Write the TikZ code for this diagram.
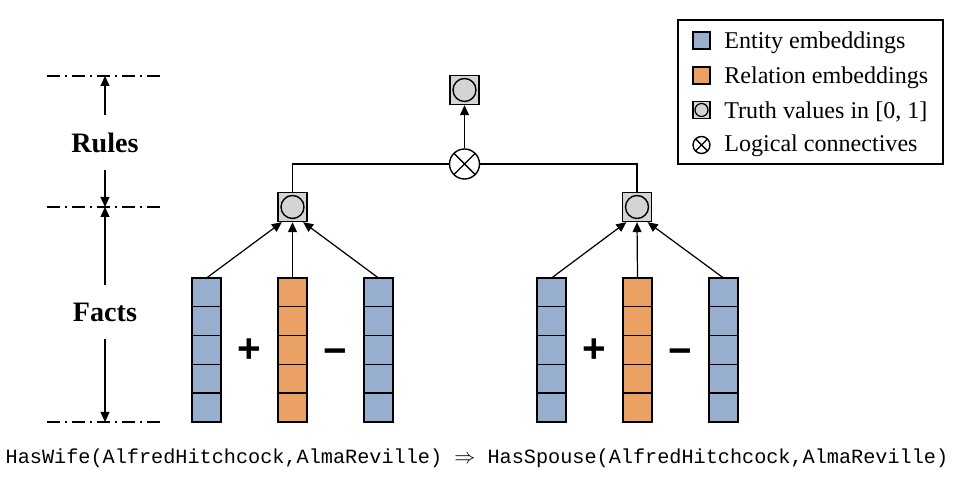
\documentclass[tikz,border=0pt]{standalone}
\usepackage{fontspec}
\setmainfont{Liberation Serif}
\setmonofont{Liberation Mono}
\newfontfamily\signfont{Liberation Sans}
\usepackage{amsmath}
\usetikzlibrary{arrows.meta}

\definecolor{entblue}{RGB}{152,174,206}
\definecolor{relorange}{RGB}{234,161,99}
\definecolor{truthgray}{RGB}{212,212,212}

\tikzset{
    emb/.style={draw, line width=0.8pt, minimum width=0.58cm, minimum height=2.88cm, inner sep=0pt, outer sep=0pt},
    truth/.style={draw, line width=0.8pt, fill=truthgray, minimum size=0.58cm, inner sep=0pt,
        path picture={\draw[line width=0.8pt, fill=truthgray] (path picture bounding box.center) circle (0.23cm);}},
    conn/.style={draw, circle, line width=0.8pt, fill=white, minimum size=0.6cm, inner sep=0pt,
        path picture={\draw[line width=0.8pt] (path picture bounding box.north west) -- (path picture bounding box.south east)
            (path picture bounding box.north east) -- (path picture bounding box.south west);}},
    legsq/.style={draw, line width=0.8pt, minimum size=0.34cm, inner sep=0pt},
    legtruth/.style={legsq, fill=truthgray,
        path picture={\draw[line width=0.7pt, fill=truthgray] (path picture bounding box.center) circle (0.13cm);}},
    legconn/.style={conn, minimum size=0.34cm},
    legtxt/.style={anchor=base west, inner sep=0pt, font=\fontsize{13.7}{15}\selectfont},
    level/.style={font=\bfseries\fontsize{16}{18}\selectfont, inner sep=0pt},
    sign/.style={font=\signfont\bfseries\fontsize{23}{25}\selectfont, inner sep=0pt},
    arr/.style={line width=0.7pt, -{Triangle[length=0.2cm, width=0.18cm]}},
    dashdot/.style={line width=0.7pt, dash pattern=on 0.26cm off 0.1cm on 0.04cm off 0.1cm},
}

\begin{document}
\begin{tikzpicture}[x=0.02cm, y=0.02cm]
    \useasboundingbox (0,0) rectangle (962,482);

    % levels on the left
    \draw[dashdot] (47,406) -- (162,406);
    \draw[dashdot] (47,275) -- (162,275);
    \draw[dashdot] (47,60) -- (162,60);
    \coordinate (lvltop) at (105,406);
    \coordinate (lvlmid) at (105,275);
    \coordinate (lvlbot) at (105,60);
    \node[level] (rules) at (105,339.5) {Rules};
    \node[level] (facts) at (105,170) {Facts};
    \draw[arr, shorten <=0.35cm] (rules) -- (lvltop);
    \draw[arr, shorten <=0.35cm] (rules) -- (lvlmid);
    \draw[arr, shorten <=0.35cm] (facts) -- (lvlmid);
    \draw[arr, shorten <=0.35cm] (facts) -- (lvlbot);

    % left fact
    \node[emb, fill=entblue] (h1) at (206.5,132) {};
    \node[emb, fill=relorange] (r1) at (292.5,132) {};
    \node[emb, fill=entblue] (t1) at (378.5,132) {};
    \node[sign] (plus1) at (249.5,131) {+};
    \node[sign] (minus1) at (335.5,125) {−};

    % right fact
    \node[emb, fill=entblue] (h2) at (551.5,132) {};
    \node[emb, fill=relorange] (r2) at (637.5,132) {};
    \node[emb, fill=entblue] (t2) at (723.5,132) {};
    \node[sign] (plus2) at (594.5,131) {+};
    \node[sign] (minus2) at (680.5,125) {−};

    % cells
    \foreach \c in {h1,r1,t1,h2,r2,t2}{
        \foreach \k in {1,...,4}
            \draw[line width=0.8pt] (\c.south west) ++(0,\k*28.8) -- ++(29,0);
    }

    % truth values
    \node[truth] (v1) at (292.5,275) {};
    \node[truth] (v2) at (637,275) {};
    \node[truth] (v0) at (464.5,392) {};
    \node[conn] (ot) at (464.5,318) {};

    \draw[arr] (h1.north) -- (v1.-125);
    \draw[arr] (r1.north) -- (v1.south);
    \draw[arr] (t1.north) -- (v1.-55);
    \draw[arr] (h2.north) -- (v2.-125);
    \draw[arr] (r2.north) -- (v2.south);
    \draw[arr] (t2.north) -- (v2.-55);

    \draw[line width=0.7pt] (v1.north) |- (ot.west);
    \draw[line width=0.7pt] (v2.north) |- (ot.east);
    \draw[arr] (ot.north) -- (v0.south);

    % legend
    \draw[line width=0.8pt] (678,318) rectangle (943,462);
    \node[legsq, fill=entblue] (lent) at (701.5,441.5) {};
    \node[legsq, fill=relorange] (lrel) at (701.5,406.5) {};
    \node[legtruth] (ltru) at (701.5,372) {};
    \node[legconn] (lcon) at (701.5,337) {};
    \node[legtxt] (tent) at (724,433.7) {Entity embeddings};
    \node[legtxt] (trel) at (724,398.2) {Relation embeddings};
    \node[legtxt] (ttru) at (724,363.7) {Truth values in [0, 1]};
    \node[legtxt] (tcon) at (724,330.3) {Logical connectives};

    % bottom line
    \node[font=\ttfamily\fontsize{11.5}{13}\selectfont, inner sep=0pt] (rule) at (477,24)
        {HasWife(AlfredHitchcock,AlmaReville) $\Rightarrow$ HasSpouse(AlfredHitchcock,AlmaReville)};
\end{tikzpicture}
\end{document}
